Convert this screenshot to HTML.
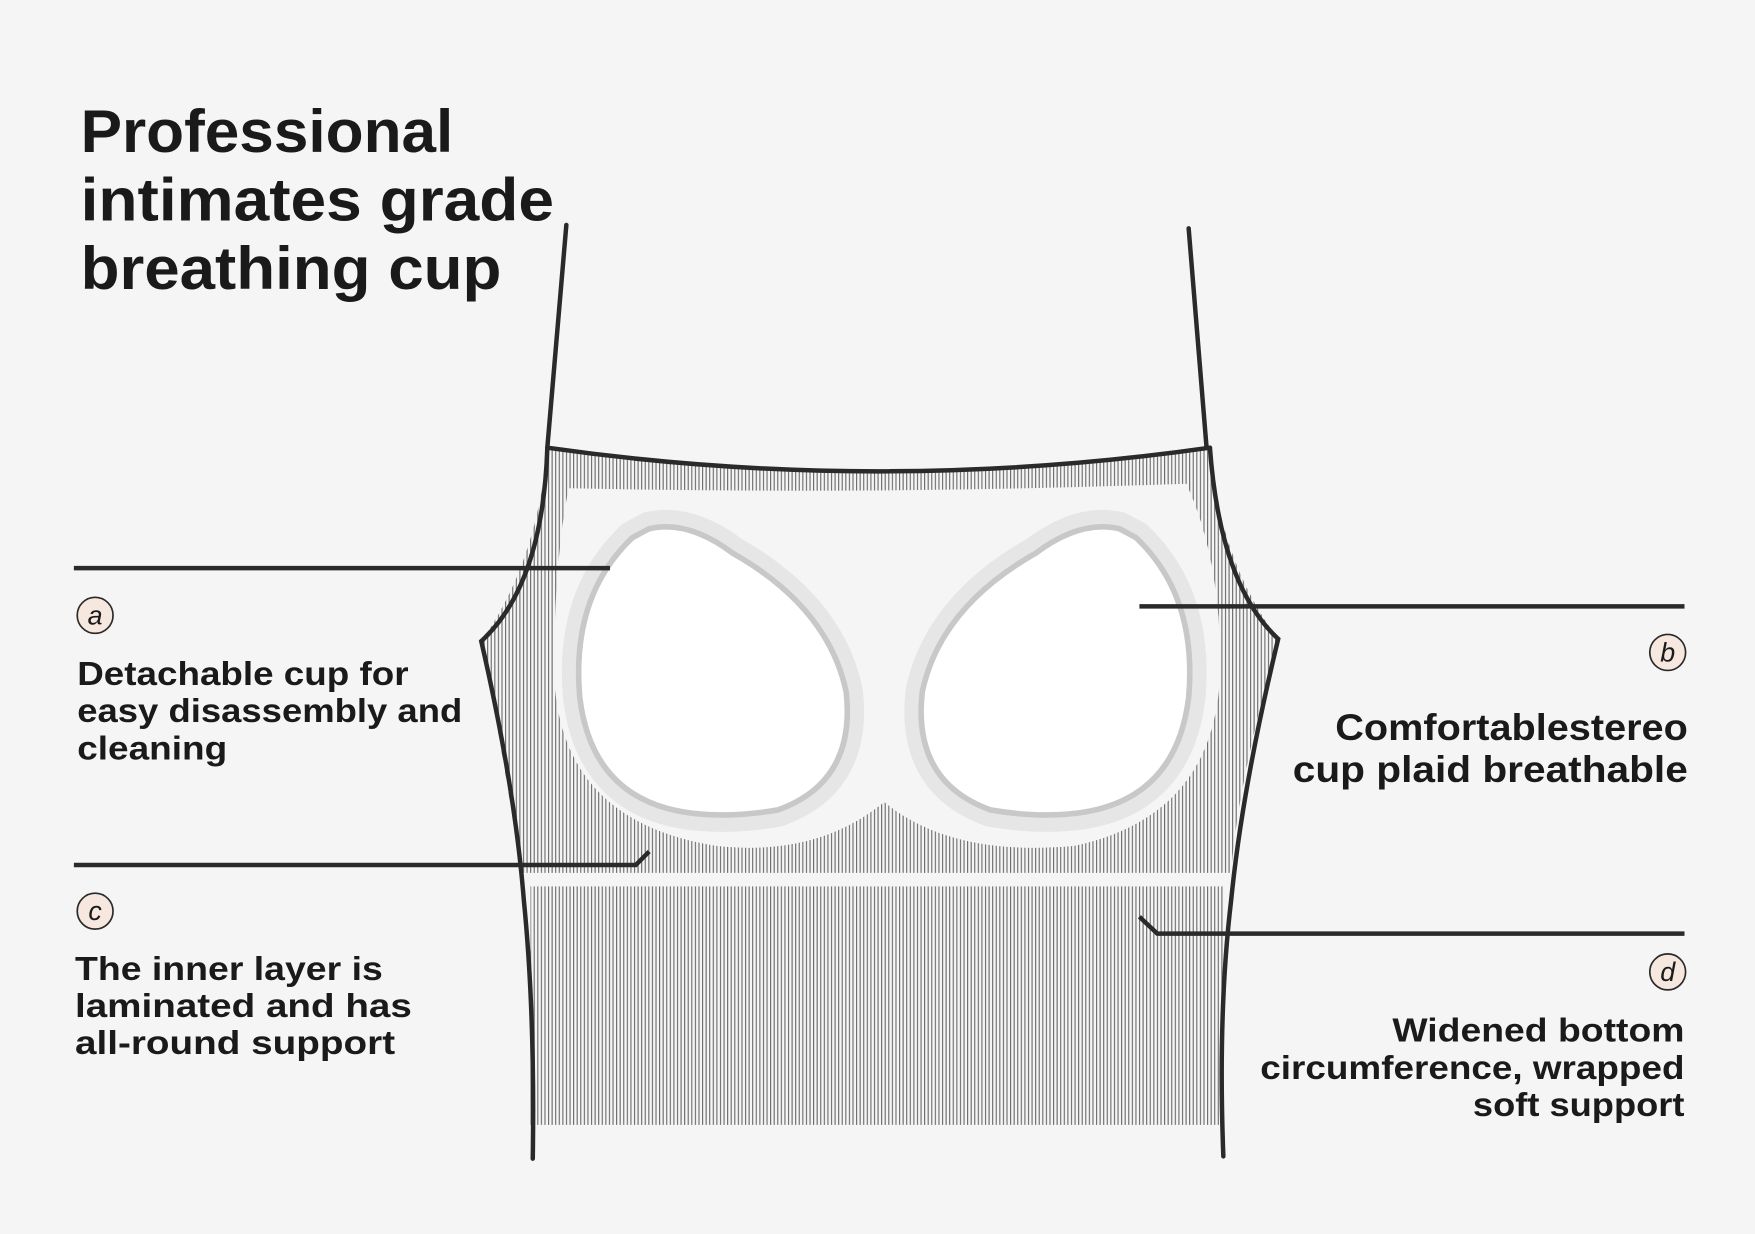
<!DOCTYPE html>
<html><head><meta charset="utf-8"><style>
html,body{margin:0;padding:0;background:#f5f5f5;}
svg{display:block;}
text{font-family:"Liberation Sans","DejaVu Sans",sans-serif;font-weight:bold;fill:#1a1a1a;}
</style></head><body>
<svg width="1755" height="1234" viewBox="0 0 1568 1097" preserveAspectRatio="none" xmlns="http://www.w3.org/2000/svg">
<defs>
<pattern id="h" width="3.2" height="10" patternUnits="userSpaceOnUse">
<rect width="3.2" height="10" fill="#f5f5f5"/>
<rect x="0" width="1" height="10" fill="#6a6a6a"/>
</pattern>
<g id="cup">
<path d="M580,470 Q615,462 655,492 Q740,540 756,615 Q765,695 695,720 Q660,726 630,724 Q530,718 518,620 Q510,530 565,478 Z"/>
</g>
</defs>
<rect width="1568" height="1097" fill="#f5f5f5"/>
<path d="M489,398 Q785,440 1081,398 Q1090,500 1142,568 Q1105,700 1100,776 L465,776 Q455,700 430,570 Q480,500 489,398 Z" fill="url(#h)"/>
<rect x="474" y="788" width="620" height="212" fill="url(#h)"/>
<path d="M508,434 Q785,440 1060,430 Q1092,500 1090,600 Q1085,725 960,752 Q850,762 790,713 Q730,762 640,752 Q500,730 495,600 Q495,500 508,434 Z" fill="#f5f5f5"/>
<g fill="#fff">
<use href="#cup" stroke="#e6e6e6" stroke-width="30"/>
<use href="#cup" stroke="#c8c8c8" stroke-width="5"/>
<g transform="translate(1580,0) scale(-1,1)">
<use href="#cup" stroke="#e6e6e6" stroke-width="30"/>
<use href="#cup" stroke="#c8c8c8" stroke-width="5"/>
</g>
</g>
<g fill="none" stroke="#2a2a2a" stroke-width="4" stroke-linecap="round">
<path d="M506,200 L489,398"/>
<path d="M1062,203 L1078,398"/>
<path d="M489,398 Q785,440 1081,398"/>
<path d="M489,398 Q485,520 430,570 Q460,700 468,800 Q478,900 476,1030"/>
<path d="M1081,398 Q1090,520 1142,568 Q1110,700 1100,800 Q1088,900 1093,1028"/>
</g>
<g fill="none" stroke="#2a2a2a" stroke-width="4">
<path d="M66,505 L545,505"/>
<path d="M1018,539 L1505,539"/>
<path d="M66,769 L568,769 L580,757"/>
<path d="M1018,815 L1034,830 L1505,830"/>
</g>
<g font-size="54" lengthAdjust="spacingAndGlyphs">
<text x="72" y="135" textLength="333" lengthAdjust="spacingAndGlyphs">Professional</text>
<text x="72" y="196" textLength="423" lengthAdjust="spacingAndGlyphs">intimates grade</text>
<text x="72" y="257" textLength="376" lengthAdjust="spacingAndGlyphs">breathing cup</text>
</g>
<g fill="#f6e8df" stroke="#2a2a2a" stroke-width="1.5">
<circle cx="85" cy="547" r="16"/><circle cx="1490" cy="580" r="16"/>
<circle cx="85" cy="810" r="16"/><circle cx="1490" cy="864" r="16"/>
</g>
<g font-size="24" font-style="italic" text-anchor="middle">
<text x="85" y="555" style="font-weight:normal">a</text>
<text x="1490" y="588" style="font-weight:normal">b</text>
<text x="85" y="818" style="font-weight:normal">c</text>
<text x="1490" y="872" style="font-weight:normal">d</text>
</g>
<g font-size="30">
<text x="69" y="609" textLength="296" lengthAdjust="spacingAndGlyphs">Detachable cup for</text>
<text x="69" y="642" textLength="344" lengthAdjust="spacingAndGlyphs">easy disassembly and</text>
<text x="69" y="675" textLength="134" lengthAdjust="spacingAndGlyphs">cleaning</text>
<text x="67" y="871" textLength="275" lengthAdjust="spacingAndGlyphs">The inner layer is</text>
<text x="67" y="904" textLength="301" lengthAdjust="spacingAndGlyphs">laminated and has</text>
<text x="67" y="937" textLength="286" lengthAdjust="spacingAndGlyphs">all-round support</text>
</g>
<g font-size="33">
<text x="1193" y="658" textLength="315" lengthAdjust="spacingAndGlyphs">Comfortablestereo</text>
<text x="1155" y="695" textLength="353" lengthAdjust="spacingAndGlyphs">cup plaid breathable</text>
</g>
<g font-size="30">
<text x="1244" y="926" textLength="261" lengthAdjust="spacingAndGlyphs">Widened bottom</text>
<text x="1126" y="959" textLength="379" lengthAdjust="spacingAndGlyphs">circumference, wrapped</text>
<text x="1316" y="992" textLength="189" lengthAdjust="spacingAndGlyphs">soft support</text>
</g>
</svg>
</body></html>
